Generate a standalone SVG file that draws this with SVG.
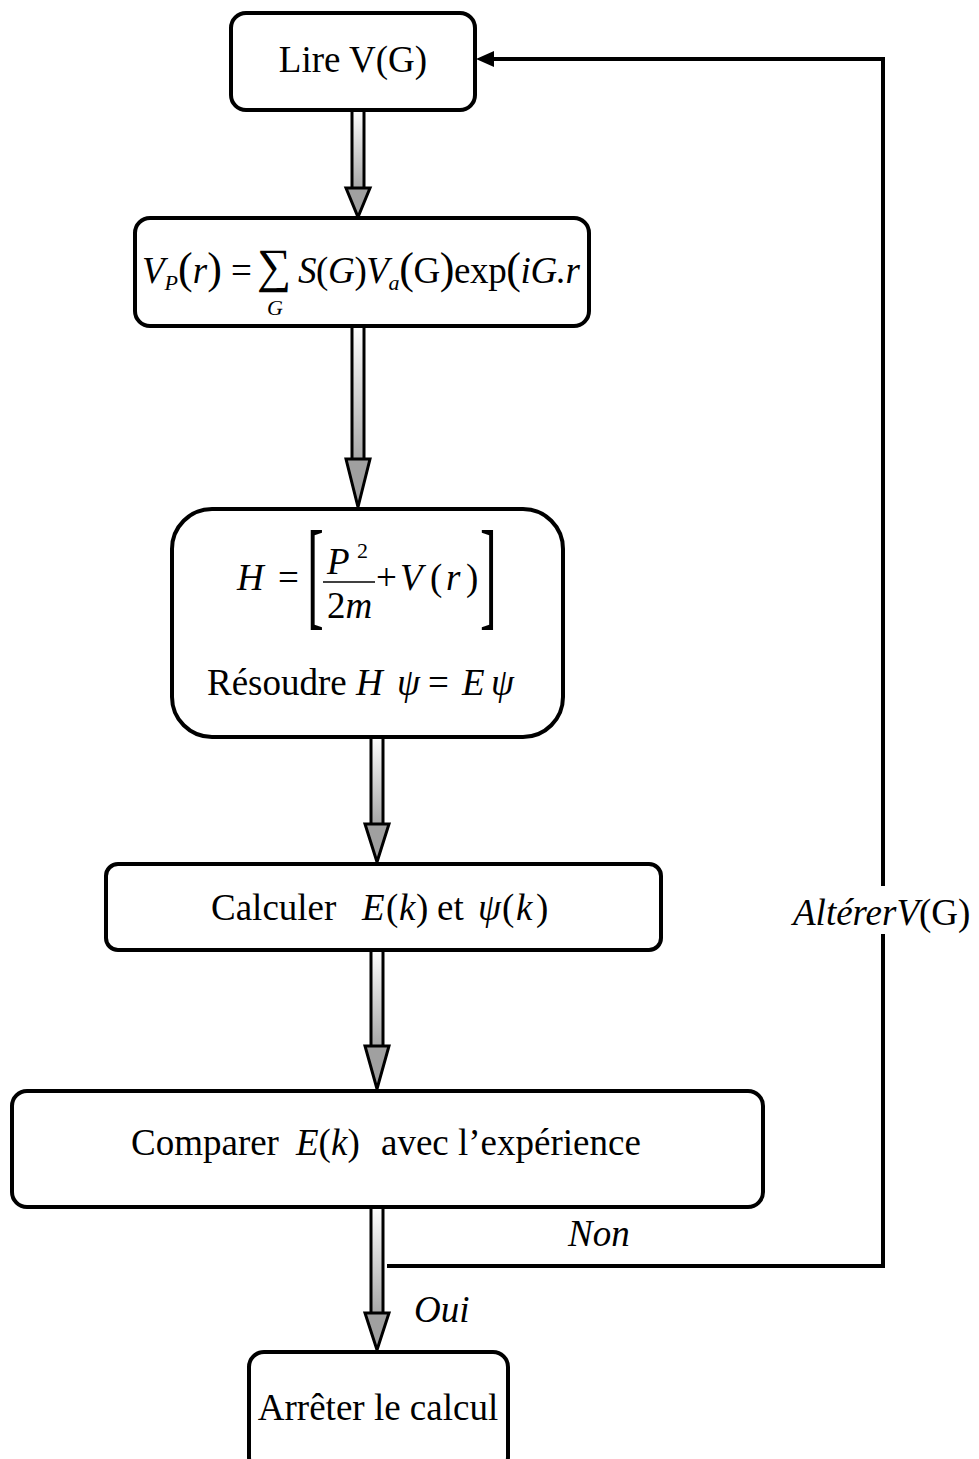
<svg xmlns="http://www.w3.org/2000/svg" width="979" height="1459" viewBox="0 0 979 1459">
<defs>
<linearGradient id="shaft" x1="0" y1="0" x2="0" y2="1">
<stop offset="0" stop-color="#ffffff"/>
<stop offset="1" stop-color="#a8a8a8"/>
</linearGradient>
</defs>
<style>
.box{fill:#fff;stroke:#000;stroke-width:4}
.t{font-family:"Liberation Serif","Times New Roman",serif;font-size:37px;fill:#000}
.i{font-style:italic}
.sub{font-size:22px}
.big{font-size:44px}
.head{fill:#a0a0a0;stroke:#000;stroke-width:3;stroke-linejoin:miter}
.edge{fill:none;stroke:#000;stroke-width:3}
.line{fill:none;stroke:#000;stroke-width:4}
</style>
<rect width="979" height="1459" fill="#fff"/>

<g id="connectors">
<g id="a1"><rect x="352" y="110" width="12" height="78" fill="url(#shaft)"/><path class="edge" d="M352,110 V188 M364,110 V188"/><path class="head" d="M346,188 L370,188 L358,217 Z"/></g>
<g id="a2"><rect x="352" y="326" width="12" height="133" fill="url(#shaft)"/><path class="edge" d="M352,326 V459 M364,326 V459"/><path class="head" d="M346,459 L370,459 L358,507 Z"/></g>
<g id="a3"><rect x="371" y="737" width="12" height="87" fill="url(#shaft)"/><path class="edge" d="M371,737 V824 M383,737 V824"/><path class="head" d="M365,824 L389,824 L377,862 Z"/></g>
<g id="a4"><rect x="371" y="950" width="12" height="96" fill="url(#shaft)"/><path class="edge" d="M371,950 V1046 M383,950 V1046"/><path class="head" d="M365,1046 L389,1046 L377,1089 Z"/></g>
<g id="a5"><rect x="371" y="1207" width="12" height="106" fill="url(#shaft)"/><path class="edge" d="M371,1207 V1313 M383,1207 V1313"/><path class="head" d="M365,1313 L389,1313 L377,1350 Z"/></g>
<g id="feedback">
<polyline class="line" points="387,1266 883,1266 883,934"/>
<polyline class="line" points="883,886 883,59 492,59"/>
<polygon points="476,59 494,51 494,67" fill="#000"/>
</g>
<text class="t i" x="568" y="1246">Non</text>
<text class="t i" x="414" y="1322">Oui</text>
<text class="t" x="793" y="925"><tspan class="i">AltérerV</tspan>(G)</text>
</g>

<g id="n1">
<rect class="box" x="231" y="13" width="244" height="97" rx="15"/>
<text class="t" x="353" y="72" text-anchor="middle">Lire V(G)</text>
</g>

<g id="n2">
<rect class="box" x="135" y="218" width="454" height="108" rx="15"/>
<text class="t" x="142" y="283"><tspan class="i">V</tspan><tspan class="i sub" dy="7">P</tspan><tspan class="big" dy="-7">(</tspan><tspan class="i">r</tspan><tspan class="big">)</tspan> =</text>
<text class="t" x="257" y="282" style="font-size:48px">∑</text>
<text class="t i sub" x="267" y="315">G</text>
<text class="t" x="298" y="283" textLength="282" lengthAdjust="spacing"><tspan class="i">S</tspan>(<tspan class="i">G</tspan>)<tspan class="i">V</tspan><tspan class="i sub" dy="7">a</tspan><tspan class="big" dy="-7">(</tspan>G<tspan class="big">)</tspan>exp<tspan class="big">(</tspan><tspan class="i">iG.r</tspan></text>
</g>

<g id="n3">
<rect class="box" x="172" y="509" width="391" height="228" rx="40"/>
<text class="t i" x="237" y="590">H</text>
<text class="t" x="278" y="590">=</text>
<text class="t" style="font-size:120px" transform="translate(307,614) scale(0.42,1)">[</text>
<text class="t" style="font-size:120px" transform="translate(480,614) scale(0.42,1)">]</text>
<text class="t i" x="327" y="574">P</text>
<text class="t sub" x="357" y="558">2</text>
<line x1="323" y1="582" x2="375" y2="582" stroke="#000" stroke-width="1.6"/>
<text class="t" x="327" y="618">2<tspan class="i">m</tspan></text>
<text class="t" x="376" y="590">+</text>
<text class="t i" x="400" y="590">V</text>
<text class="t" x="430" y="590">(</text>
<text class="t i" x="446" y="590">r</text>
<text class="t" x="466" y="590">)</text>
<text class="t" x="207" y="695">Résoudre</text>
<text class="t i" x="356" y="695">H</text>
<text class="t i" x="397" y="695">ψ</text>
<text class="t" x="428" y="695">=</text>
<text class="t i" x="462" y="695">E</text>
<text class="t i" x="491" y="695">ψ</text>
</g>

<g id="n4">
<rect class="box" x="106" y="864" width="555" height="86" rx="12"/>
<text class="t" x="211" y="920">Calculer</text>
<text class="t" x="362" y="920"><tspan class="i">E</tspan><tspan x="386">(</tspan><tspan class="i" x="399">k</tspan><tspan x="416">)</tspan><tspan x="437">et</tspan><tspan class="i" x="478">ψ</tspan><tspan x="502">(</tspan><tspan class="i" x="516">k</tspan><tspan x="536">)</tspan></text>
</g>

<g id="n5">
<rect class="box" x="12" y="1091" width="751" height="116" rx="15"/>
<text class="t" x="131" y="1155">Comparer</text>
<text class="t" x="296" y="1155"><tspan class="i">E</tspan>(<tspan class="i">k</tspan>)</text>
<text class="t" x="381" y="1155">avec l’expérience</text>
</g>

<g id="n6">
<rect class="box" x="249" y="1352" width="259" height="120" rx="15"/>
<text class="t" x="378" y="1420" text-anchor="middle">Arrêter le calcul</text>
</g>
</svg>
